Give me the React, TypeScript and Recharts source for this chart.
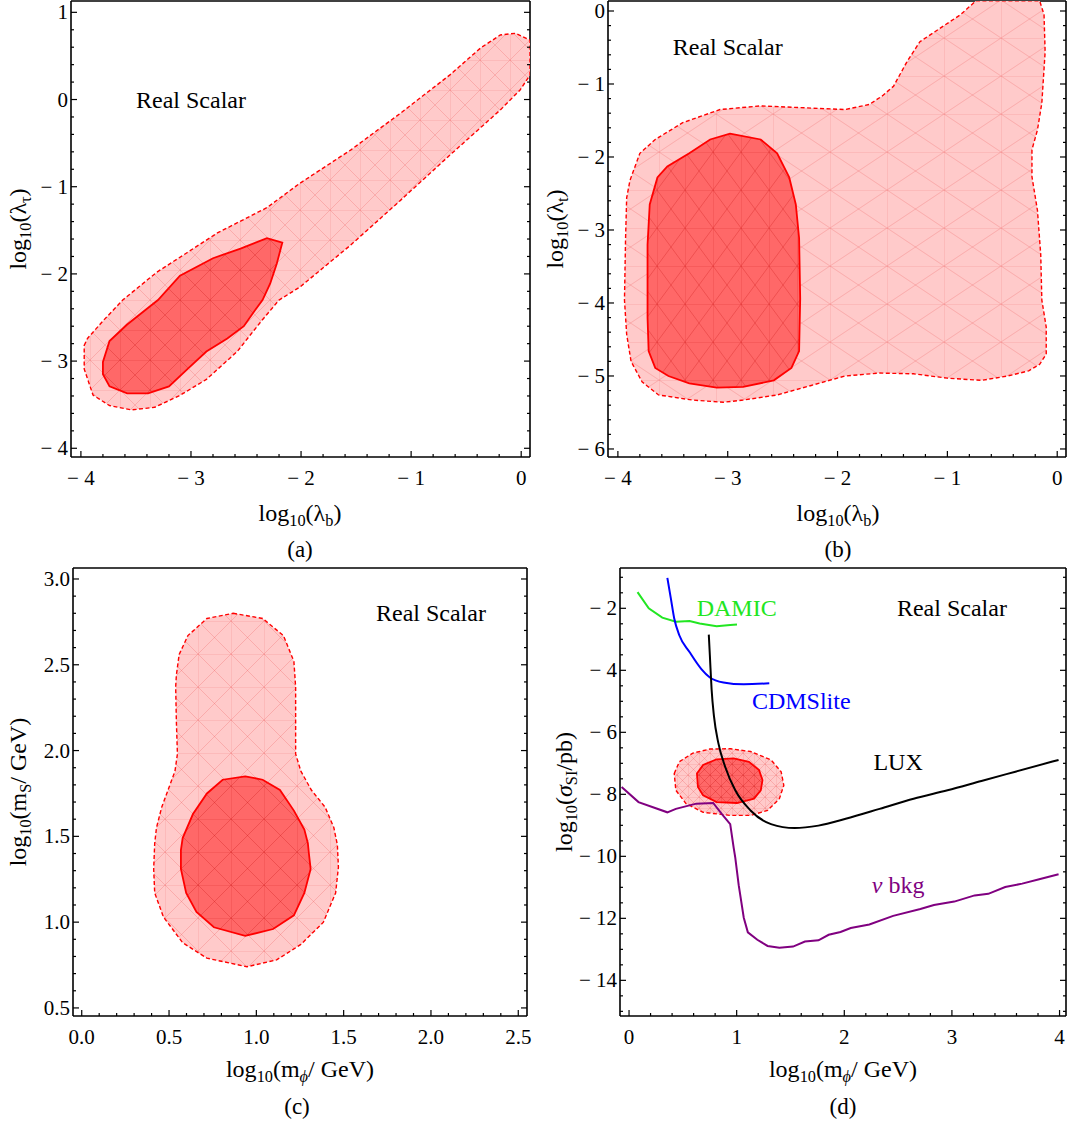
import React from "react";
import { ScatterChart, Scatter, XAxis, YAxis } from "recharts";

type Pt = [number, number];

// (a) log10(λb) vs log10(λτ)
const aOuter: Pt[] = [
  [-3.97, -2.82], [-3.94, -2.74], [-3.8, -2.54], [-3.62, -2.3], [-3.31, -1.98], [-3.04, -1.76],
  [-2.76, -1.53], [-2.31, -1.24], [-2.01, -0.96], [-1.55, -0.58], [-1.1, -0.16], [-0.65, 0.28],
  [-0.37, 0.59], [-0.19, 0.74], [-0.05, 0.76], [0.08, 0.68], [0.08, 0.28], [-0.01, 0.11],
  [-0.19, -0.12], [-0.65, -0.64], [-1.1, -1.16], [-1.55, -1.67], [-2.01, -2.15], [-2.2, -2.3],
  [-2.36, -2.54], [-2.58, -2.89], [-2.86, -3.21], [-3.11, -3.4], [-3.33, -3.53], [-3.54, -3.56],
  [-3.74, -3.51], [-3.89, -3.39], [-3.97, -3.09],
];
const aInner: Pt[] = [
  [-2.17, -1.64], [-2.22, -1.88], [-2.28, -2.11], [-2.35, -2.3], [-2.42, -2.42], [-2.52, -2.6],
  [-2.67, -2.74], [-2.86, -2.89], [-3.03, -3.09], [-3.2, -3.29], [-3.39, -3.37], [-3.58, -3.37],
  [-3.74, -3.29], [-3.8, -3.15], [-3.8, -3.01], [-3.74, -2.77], [-3.58, -2.58], [-3.42, -2.42],
  [-3.3, -2.3], [-3.1, -2.02], [-2.8, -1.82], [-2.55, -1.71], [-2.31, -1.59],
];
const aXTicks = [-4, -3, -2, -1, 0];
const aYTicks = [-4, -3, -2, -1, 0, 1];

// (b) log10(λb) vs log10(λt)
const bOuter: Pt[] = [
  [-0.74, 0.14], [-0.16, 0.14], [-0.12, -0.05], [-0.11, -0.56], [-0.14, -1.26], [-0.18, -1.63],
  [-0.23, -1.9], [-0.23, -2.27], [-0.18, -2.73], [-0.15, -3.34], [-0.14, -3.96], [-0.1, -4.33],
  [-0.1, -4.7], [-0.16, -4.84], [-0.26, -4.93], [-0.45, -5.0], [-0.69, -5.06], [-1.0, -5.03],
  [-1.31, -4.97], [-1.62, -4.96], [-1.93, -5.0], [-2.24, -5.13], [-2.55, -5.26], [-2.86, -5.33],
  [-3.04, -5.36], [-3.32, -5.33], [-3.63, -5.26], [-3.78, -5.08], [-3.88, -4.8], [-3.92, -4.43],
  [-3.94, -3.96], [-3.93, -3.11], [-3.92, -2.56], [-3.89, -2.32], [-3.8, -1.95], [-3.66, -1.76],
  [-3.41, -1.53], [-3.07, -1.35], [-2.7, -1.3], [-2.24, -1.33], [-1.93, -1.35], [-1.71, -1.28],
  [-1.59, -1.16], [-1.49, -1.03], [-1.37, -0.7], [-1.25, -0.42], [-1.09, -0.26], [-0.88, -0.05],
];
const bInner: Pt[] = [
  [-2.98, -1.68], [-2.7, -1.76], [-2.55, -1.95], [-2.44, -2.28], [-2.38, -2.65], [-2.35, -3.11],
  [-2.34, -3.94], [-2.35, -4.66], [-2.42, -4.89], [-2.58, -5.06], [-2.86, -5.15], [-3.1, -5.16],
  [-3.35, -5.1], [-3.54, -5.0], [-3.66, -4.89], [-3.72, -4.66], [-3.73, -4.2], [-3.73, -3.2],
  [-3.71, -2.65], [-3.64, -2.28], [-3.55, -2.13], [-3.35, -1.95], [-3.16, -1.76],
];
const bXTicks = [-4, -3, -2, -1, 0];
const bYTicks = [-6, -5, -4, -3, -2, -1, 0];

// (c) log10(mφ/GeV) vs log10(mS/GeV)
const cOuter: Pt[] = [
  [0.867, 2.8], [1.036, 2.77], [1.155, 2.67], [1.215, 2.52], [1.225, 2.37], [1.225, 1.98],
  [1.255, 1.88], [1.315, 1.77], [1.394, 1.67], [1.444, 1.55], [1.464, 1.45], [1.47, 1.32],
  [1.454, 1.17], [1.384, 1.0], [1.255, 0.87], [1.116, 0.78], [0.946, 0.74], [0.717, 0.79],
  [0.578, 0.88], [0.468, 1.03], [0.418, 1.17], [0.412, 1.31], [0.418, 1.46], [0.428, 1.55],
  [0.458, 1.67], [0.498, 1.78], [0.534, 1.88], [0.548, 1.98], [0.542, 2.17], [0.538, 2.37],
  [0.542, 2.44], [0.558, 2.56], [0.608, 2.67], [0.717, 2.77],
];
const cInner: Pt[] = [
  [0.936, 1.85], [1.036, 1.83], [1.135, 1.77], [1.215, 1.65], [1.275, 1.54], [1.295, 1.46],
  [1.301, 1.4], [1.311, 1.31], [1.275, 1.17], [1.215, 1.04], [1.096, 0.96], [0.936, 0.92],
  [0.757, 0.97], [0.657, 1.06], [0.598, 1.17], [0.568, 1.31], [0.568, 1.42], [0.578, 1.49],
  [0.637, 1.63], [0.717, 1.75], [0.807, 1.83],
];
const cXTicks = [0, 0.5, 1, 1.5, 2, 2.5];
const cYTicks = [0.5, 1, 1.5, 2, 2.5, 3];

// (d) log10(mφ/GeV) vs log10(σSI/pb)
const dOuter: Pt[] = [
  [0.42, -7.33], [0.467, -6.95], [0.593, -6.67], [0.751, -6.54], [0.94, -6.53], [1.129, -6.62],
  [1.319, -6.89], [1.413, -7.27], [1.438, -7.71], [1.397, -8.14], [1.287, -8.52], [1.129, -8.68],
  [0.94, -8.68], [0.688, -8.58], [0.53, -8.3], [0.435, -7.87],
];
const dInner: Pt[] = [
  [0.631, -7.33], [0.688, -7.05], [0.814, -6.87], [0.972, -6.84], [1.114, -6.95], [1.208, -7.22],
  [1.24, -7.54], [1.224, -7.87], [1.161, -8.14], [1.003, -8.28], [0.814, -8.25], [0.688, -8.03],
  [0.64, -7.76],
];
const damic: Pt[] = [
  [0.079, -1.48], [0.183, -2.0], [0.309, -2.3], [0.435, -2.43], [0.562, -2.41], [0.656, -2.49],
  [0.814, -2.58], [0.94, -2.54], [1.003, -2.52],
];
const cdmslite: Pt[] = [
  [0.356, -1.02], [0.388, -1.67], [0.42, -2.33], [0.467, -2.87], [0.562, -3.41], [0.672, -3.96],
  [0.751, -4.23], [0.877, -4.39], [1.066, -4.45], [1.303, -4.42],
];
const lux: Pt[] = [
  [0.741, -2.85], [0.751, -3.52], [0.767, -4.61], [0.789, -5.48], [0.83, -6.35], [0.893, -7.11],
  [0.987, -7.87], [1.129, -8.52], [1.319, -8.96], [1.539, -9.09], [1.76, -9.01], [2.013, -8.79],
  [2.328, -8.47], [2.644, -8.14], [2.959, -7.87], [3.274, -7.57], [3.59, -7.27], [3.991, -6.89],
];
const nuBkg: Pt[] = [
  [-0.069, -7.76], [0.088, -8.25], [0.356, -8.58], [0.435, -8.47], [0.625, -8.3], [0.782, -8.28],
  [0.861, -8.63], [0.94, -8.96], [0.972, -9.72], [0.987, -10.04], [1.019, -10.93], [1.066, -11.98],
  [1.104, -12.45], [1.192, -12.69], [1.287, -12.89], [1.397, -12.95], [1.524, -12.91],
  [1.634, -12.75], [1.76, -12.71], [1.855, -12.53], [1.965, -12.44], [2.06, -12.31],
  [2.233, -12.2], [2.454, -11.92], [2.707, -11.7], [2.833, -11.57], [3.022, -11.46],
  [3.211, -11.26], [3.338, -11.21], [3.495, -10.99], [3.653, -10.88], [3.811, -10.74],
  [3.991, -10.58],
];
const dXTicks = [0, 1, 2, 3, 4];
const dYTicks = [-14, -12, -10, -8, -6, -4, -2];

const FONT = '"Liberation Serif", "Times New Roman", serif';
const RED = "#ff0000";

const toXY = (pts: Pt[]) => pts.map(([x, y]) => ({ x, y }));
const noDot = () => <g />;

function minorTicks(domain: [number, number], step: number) {
  const out: number[] = [];
  const start = Math.ceil(domain[0] / step - 1e-9) * step;
  for (let v = start; v <= domain[1] + 1e-9; v += step) out.push(Math.round(v * 1000) / 1000);
  return out;
}

const fmt = (digits: number) => (v: number) => {
  const s = Math.abs(v).toFixed(digits);
  return v < -1e-9 ? `\u2212 ${s}` : s;
};

type Side = "bottom" | "top" | "left" | "right";

// draws inward tick marks (major/minor) and labels on bottom/left
function frameTick(side: Side, majors: number[], digits: number) {
  return (p: any) => {
    const { x, y, payload } = p;
    const v = payload.value;
    const major = majors.some((m) => Math.abs(m - v) < 1e-6);
    const len = major ? 6 : 3;
    let end: [number, number];
    if (side === "bottom") end = [x, y - len];
    else if (side === "top") end = [x, y + len];
    else if (side === "left") end = [x + len, y];
    else end = [x - len, y];
    let label: React.ReactNode = null;
    if (major && side === "bottom") {
      label = (
        <text x={x} y={y + 28} textAnchor="middle" fontFamily={FONT} fontSize={21} fill="#000">
          {fmt(digits)(v)}
        </text>
      );
    } else if (major && side === "left") {
      label = (
        <text x={x - 3} y={y + 7} textAnchor="end" fontFamily={FONT} fontSize={21} fill="#000">
          {fmt(digits)(v)}
        </text>
      );
    }
    return (
      <g>
        <line x1={x} y1={y} x2={end[0]} y2={end[1]} stroke="#000" strokeWidth={1.2} />
        {label}
      </g>
    );
  };
}

interface Frame {
  xDomain: [number, number];
  yDomain: [number, number];
  xTicks: number[];
  yTicks: number[];
  xMinor: number;
  yMinor: number;
  digits: number;
}

// Mathematica style frame: ticks on all four sides pointing inwards
function frameAxes(f: Frame) {
  const line = { stroke: "#000", strokeWidth: 1.6 };
  const xm = minorTicks(f.xDomain, f.xMinor);
  const ym = minorTicks(f.yDomain, f.yMinor);
  const common = {
    type: "number" as const,
    allowDataOverflow: true,
    interval: 0 as const,
    tickSize: 0,
    tickMargin: 0,
    tickLine: false,
    axisLine: line,
  };
  return [
    <XAxis key="xb" xAxisId="b" dataKey="x" orientation="bottom" domain={f.xDomain} ticks={xm}
      height={1} tick={frameTick("bottom", f.xTicks, f.digits)} {...common} />,
    <XAxis key="xt" xAxisId="t" orientation="top" domain={f.xDomain} ticks={xm}
      height={1} tick={frameTick("top", f.xTicks, f.digits)} {...common} />,
    <YAxis key="yl" yAxisId="l" dataKey="y" orientation="left" domain={f.yDomain} ticks={ym}
      width={1} tick={frameTick("left", f.yTicks, f.digits)} {...common} />,
    <YAxis key="yr" yAxisId="r" orientation="right" domain={f.yDomain} ticks={ym}
      width={1} tick={frameTick("right", f.yTicks, f.digits)} {...common} />,
  ];
}

function region(key: string, pts: Pt[], fill: string, dashed: boolean) {
  return (
    <Scatter
      key={key}
      xAxisId="b"
      yAxisId="l"
      data={toXY(pts)}
      shape={noDot}
      legendType="none"
      isAnimationActive={false}
      lineType="joint"
      lineJointType="linearClosed"
      line={
        dashed
          ? { fill, stroke: RED, strokeWidth: 1.4, strokeDasharray: "4 2.5" }
          : { fill, stroke: RED, strokeWidth: 1.8 }
      }
    />
  );
}

function curve(key: string, pts: Pt[], stroke: string, joint = "linear") {
  return (
    <Scatter
      key={key}
      xAxisId="b"
      yAxisId="l"
      data={toXY(pts)}
      shape={noDot}
      legendType="none"
      isAnimationActive={false}
      lineType="joint"
      lineJointType={joint}
      line={{ stroke, strokeWidth: 2, fill: "none" }}
    />
  );
}

function note(key: string, x: number, y: number, text: React.ReactNode, color = "#000") {
  return (
    <Scatter
      key={key}
      xAxisId="b"
      yAxisId="l"
      data={[{ x, y }]}
      legendType="none"
      isAnimationActive={false}
      shape={(p: any) => (
        <text x={p.cx} y={p.cy} textAnchor="middle" dominantBaseline="central"
          fontFamily={FONT} fontSize={24} fill={color}>
          {text}
        </text>
      )}
    />
  );
}

function mesh(id: string, w: number, h: number, bg: string, ink: string) {
  return (
    <pattern id={id} patternUnits="userSpaceOnUse" width={w} height={h}>
      <rect width={w} height={h} fill={bg} />
      <path d={`M0 0H${w}M0 0V${h}M0 0L${w} ${h}M${w} 0L0 ${h}`} stroke={ink} strokeWidth={0.8} fill="none" />
    </pattern>
  );
}

const LIGHT_INK = "rgba(235,70,70,0.3)";
const DARK_INK = "rgba(190,0,0,0.3)";

const frameA: Frame = { xDomain: [-4.09, 0.08], yDomain: [-4.1, 1.13], xTicks: aXTicks, yTicks: aYTicks, xMinor: 0.2, yMinor: 0.2, digits: 0 };
const frameB: Frame = { xDomain: [-4.09, 0.08], yDomain: [-6.11, 0.137], xTicks: bXTicks, yTicks: bYTicks, xMinor: 0.2, yMinor: 0.2, digits: 0 };
const frameC: Frame = { xDomain: [-0.05, 2.55], yDomain: [0.453, 3.064], xTicks: cXTicks, yTicks: cYTicks, xMinor: 0.1, yMinor: 0.1, digits: 1 };
const frameD: Frame = { xDomain: [-0.084, 4.06], yDomain: [-15.15, -0.7], xTicks: dXTicks, yTicks: dYTicks, xMinor: 0.2, yMinor: 0.5, digits: 0 };

const sub = { fontSize: "0.68em", verticalAlign: "-0.28em" };

function Title({ x, y, rotate, size = 24, children }: { x: number; y: number; rotate?: boolean; size?: number; children: React.ReactNode }) {
  return (
    <div
      style={{
        position: "absolute",
        left: x,
        top: y,
        transform: `translate(-50%, -50%)${rotate ? " rotate(-90deg)" : ""}`,
        fontSize: size,
        lineHeight: 1,
        whiteSpace: "nowrap",
        color: "#000",
      }}
    >
      {children}
    </div>
  );
}

const lambdaB = (
  <>log<span style={sub}>10</span>(λ<span style={sub}>b</span>)</>
);
const massPhi = (
  <>log<span style={sub}>10</span>(m<span style={sub}><i>ϕ</i></span>/ GeV)</>
);

export default function App() {
  return (
    <div style={{ position: "absolute", left: 0, top: 0, width: 1070, height: 1133, background: "#fff", fontFamily: FONT }}>
      <svg width={0} height={0} style={{ position: "absolute" }}>
        <defs>
          {mesh("lightA", 30, 30, "#ffcaca", LIGHT_INK)}
          {mesh("darkA", 30, 30, "#ff6868", DARK_INK)}
          {mesh("lightB", 57, 38, "#ffcaca", LIGHT_INK)}
          {mesh("darkB", 28, 38, "#ff6868", DARK_INK)}
          {mesh("lightC", 33, 33, "#ffcaca", LIGHT_INK)}
          {mesh("darkC", 33, 33, "#ff6868", DARK_INK)}
          {mesh("lightD", 11, 11, "#ffcaca", LIGHT_INK)}
          {mesh("darkD", 11, 11, "#ff6868", DARK_INK)}
        </defs>
      </svg>

      <div style={{ position: "absolute", left: 0, top: 0 }}>
        <ScatterChart width={545} height={495} margin={{ top: 0, right: 14, bottom: 37, left: 70 }}>
          {region("ao", aOuter, "url(#lightA)", true)}
          {region("ai", aInner, "url(#darkA)", false)}
          {note("an", -3.0, 0.0, "Real Scalar")}
          {frameAxes(frameA)}
        </ScatterChart>
      </div>

      <div style={{ position: "absolute", left: 545, top: 0 }}>
        <ScatterChart width={525} height={495} margin={{ top: 0, right: 3, bottom: 37, left: 62 }}>
          {region("bo", bOuter, "url(#lightB)", true)}
          {region("bi", bInner, "url(#darkB)", false)}
          {note("bn", -3.0, -0.5, "Real Scalar")}
          {frameAxes(frameB)}
        </ScatterChart>
      </div>

      <div style={{ position: "absolute", left: 0, top: 555 }}>
        <ScatterChart width={545} height={495} margin={{ top: 12, right: 17, bottom: 33, left: 72 }}>
          {region("co", cOuter, "url(#lightC)", true)}
          {region("ci", cInner, "url(#darkC)", false)}
          {note("cn", 2.0, 2.8, "Real Scalar")}
          {frameAxes(frameC)}
        </ScatterChart>
      </div>

      <div style={{ position: "absolute", left: 545, top: 555 }}>
        <ScatterChart width={525} height={495} margin={{ top: 12, right: 3, bottom: 33, left: 74 }}>
          {region("do", dOuter, "url(#lightD)", true)}
          {region("di", dInner, "url(#darkD)", false)}
          {curve("damic", damic, "#22e622")}
          {curve("cdms", cdmslite, "#0000ff", "monotoneX")}
          {curve("lux", lux, "#000000", "monotoneX")}
          {curve("nu", nuBkg, "#800080")}
          {note("dn", 3.0, -2.0, "Real Scalar")}
          {note("dd", 1.0, -2.0, "DAMIC", "#22e622")}
          {note("dc", 1.6, -4.99, "CDMSlite", "#0000ff")}
          {note("dl", 2.5, -6.95, "LUX")}
          {note("dv", 2.5, -10.93, <><tspan fontStyle="italic">ν</tspan> bkg</>, "#800080")}
          {frameAxes(frameD)}
        </ScatterChart>
      </div>

      <Title x={300} y={515}>{lambdaB}</Title>
      <Title x={300} y={549} size={23}>(a)</Title>
      <Title x={20} y={229} rotate>log<span style={sub}>10</span>(λ<span style={sub}>τ</span>)</Title>

      <Title x={838} y={515}>{lambdaB}</Title>
      <Title x={838} y={549} size={23}>(b)</Title>
      <Title x={557} y={229} rotate>log<span style={sub}>10</span>(λ<span style={sub}>t</span>)</Title>

      <Title x={300} y={1071}>{massPhi}</Title>
      <Title x={297} y={1106} size={23}>(c)</Title>
      <Title x={20} y={792} rotate>log<span style={sub}>10</span>(m<span style={sub}>S</span>/ GeV)</Title>

      <Title x={843} y={1071}>{massPhi}</Title>
      <Title x={843} y={1106} size={23}>(d)</Title>
      <Title x={566} y={792} rotate>log<span style={sub}>10</span>(<i>σ</i><span style={sub}>SI</span>/pb)</Title>
    </div>
  );
}
